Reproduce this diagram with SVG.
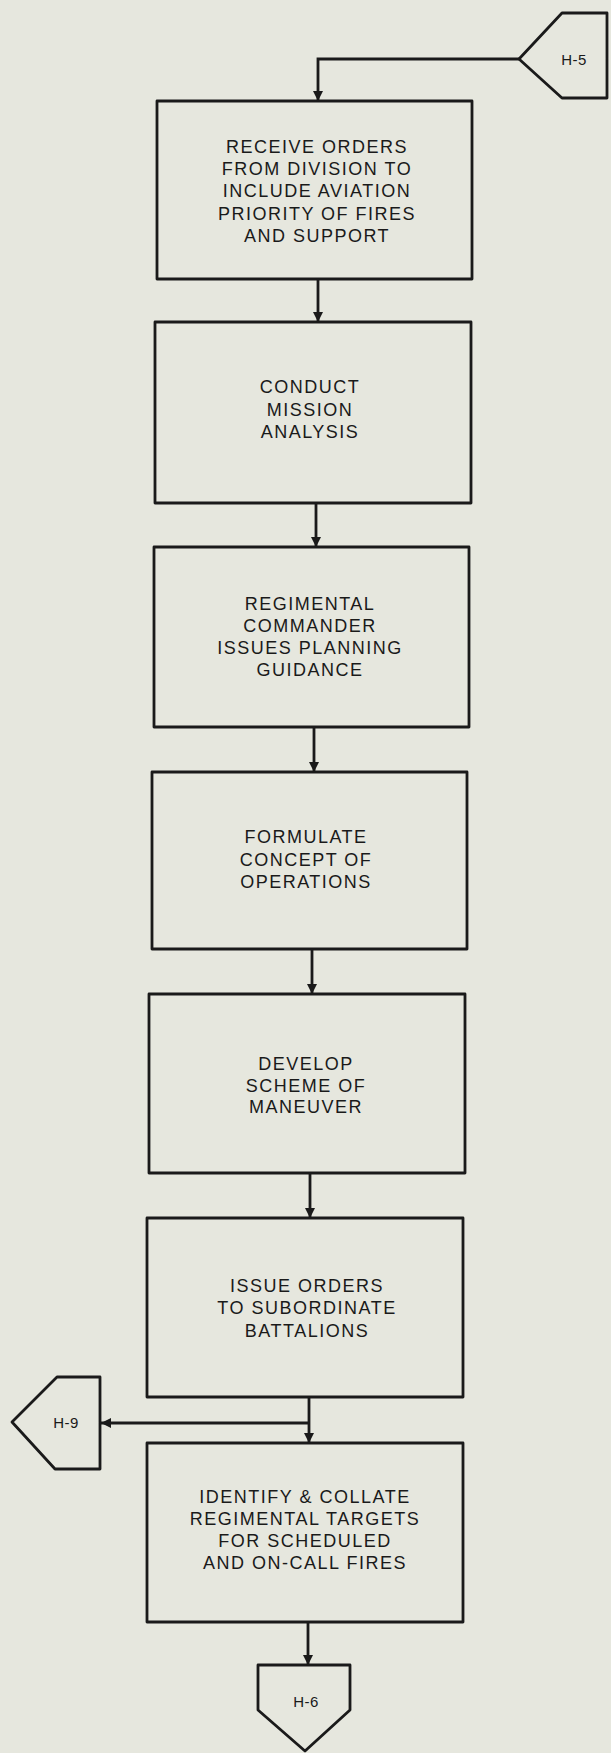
<svg xmlns="http://www.w3.org/2000/svg" width="611" height="1753" viewBox="0 0 611 1753">
  <defs>
    <marker id="arrow" viewBox="0 0 10 12" refX="10" refY="6" markerWidth="12" markerHeight="12" markerUnits="userSpaceOnUse" orient="auto">
      <path d="M0,1 L10,6 L0,11 Z" fill="#1a1a1a"/>
    </marker>
    <style>
      .box { fill: none; stroke: #1a1a1a; stroke-width: 2.8; stroke-linejoin: round; }
      .conn { fill: none; stroke: #1a1a1a; stroke-width: 2.8; }
      .lbl { font-family: "Liberation Sans", Arial, sans-serif; font-size: 18px; letter-spacing: 1.5px; fill: #1a1a1a; text-anchor: middle; }
      .ref { font-family: "Liberation Sans", Arial, sans-serif; font-size: 15px; letter-spacing: 0.5px; fill: #1a1a1a; text-anchor: middle; }
    </style>
  </defs>
  <rect width="611" height="1753" fill="#e6e7de"/>

  <!-- off-page connectors -->
  <g id="ref-h5">
    <path class="box" d="M519,59 L562,13 L607,13 L607,98 L562,98 Z"/>
    <text class="ref" x="574" y="65">H-5</text>
  </g>
  <g id="ref-h9">
    <path class="box" d="M12,1422 L57,1377 L100,1377 L100,1469 L55,1469 Z"/>
    <text class="ref" x="66" y="1428">H-9</text>
  </g>
  <g id="ref-h6">
    <path class="box" d="M258,1665 L350,1665 L350,1710 L305,1751 L258,1710 Z"/>
    <text class="ref" x="306" y="1707">H-6</text>
  </g>

  <!-- process steps -->
  <g id="step-receive-orders">
    <rect class="box" x="157" y="101" width="315" height="178"/>
    <text class="lbl" x="317" y="153">RECEIVE ORDERS</text>
    <text class="lbl" x="317" y="175">FROM DIVISION TO</text>
    <text class="lbl" x="317" y="197">INCLUDE AVIATION</text>
    <text class="lbl" x="317" y="220">PRIORITY OF FIRES</text>
    <text class="lbl" x="317" y="242">AND SUPPORT</text>
  </g>
  <g id="step-mission-analysis">
    <rect class="box" x="155" y="322" width="316" height="181"/>
    <text class="lbl" x="310" y="393">CONDUCT</text>
    <text class="lbl" x="310" y="416">MISSION</text>
    <text class="lbl" x="310" y="438">ANALYSIS</text>
  </g>
  <g id="step-planning-guidance">
    <rect class="box" x="154" y="547" width="315" height="180"/>
    <text class="lbl" x="310" y="610">REGIMENTAL</text>
    <text class="lbl" x="310" y="632">COMMANDER</text>
    <text class="lbl" x="310" y="654">ISSUES PLANNING</text>
    <text class="lbl" x="310" y="676">GUIDANCE</text>
  </g>
  <g id="step-concept">
    <rect class="box" x="152" y="772" width="315" height="177"/>
    <text class="lbl" x="306" y="843">FORMULATE</text>
    <text class="lbl" x="306" y="866">CONCEPT OF</text>
    <text class="lbl" x="306" y="888">OPERATIONS</text>
  </g>
  <g id="step-maneuver">
    <rect class="box" x="149" y="994" width="316" height="179"/>
    <text class="lbl" x="306" y="1070">DEVELOP</text>
    <text class="lbl" x="306" y="1092">SCHEME OF</text>
    <text class="lbl" x="306" y="1113">MANEUVER</text>
  </g>
  <g id="step-issue-orders">
    <rect class="box" x="147" y="1218" width="316" height="179"/>
    <text class="lbl" x="307" y="1292">ISSUE ORDERS</text>
    <text class="lbl" x="307" y="1314">TO SUBORDINATE</text>
    <text class="lbl" x="307" y="1337">BATTALIONS</text>
  </g>
  <g id="step-targets">
    <rect class="box" x="147" y="1443" width="316" height="179"/>
    <text class="lbl" x="305" y="1503">IDENTIFY &amp; COLLATE</text>
    <text class="lbl" x="305" y="1525">REGIMENTAL TARGETS</text>
    <text class="lbl" x="305" y="1547">FOR SCHEDULED</text>
    <text class="lbl" x="305" y="1569">AND ON-CALL FIRES</text>
  </g>

  <!-- connectors -->
  <g id="connectors">
    <path class="conn" d="M519,59 L318,59 L318,101" marker-end="url(#arrow)"/>
    <path class="conn" d="M318,279 L318,322" marker-end="url(#arrow)"/>
    <path class="conn" d="M316,503 L316,547" marker-end="url(#arrow)"/>
    <path class="conn" d="M314,727 L314,772" marker-end="url(#arrow)"/>
    <path class="conn" d="M312,949 L312,994" marker-end="url(#arrow)"/>
    <path class="conn" d="M310,1173 L310,1218" marker-end="url(#arrow)"/>
    <path class="conn" d="M309,1397 L309,1443" marker-end="url(#arrow)"/>
    <path class="conn" d="M309,1423 L101,1423" marker-end="url(#arrow)"/>
    <path class="conn" d="M308,1622 L308,1665" marker-end="url(#arrow)"/>
  </g>
</svg>
